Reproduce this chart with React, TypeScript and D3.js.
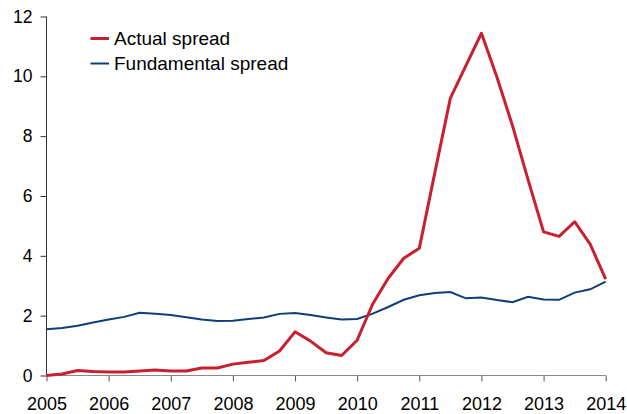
import React, { useEffect, useRef } from "react";
import * as d3 from "d3";

const years = [2005, 2006, 2007, 2008, 2009, 2010, 2011, 2012, 2013, 2014];
const yTicks = [0, 2, 4, 6, 8, 10, 12];
const quarters = d3.range(37).map((i) => 2005 + i / 4);

const actualSpread = [
  0.0, 0.05, 0.17, 0.13, 0.12, 0.12, 0.15, 0.18, 0.15, 0.15, 0.25, 0.25,
  0.38, 0.44, 0.5, 0.82, 1.46, 1.15, 0.76, 0.67, 1.18, 2.39, 3.25, 3.92,
  4.25, 6.78, 9.27, 10.36, 11.44, 9.97, 8.35, 6.55, 4.8, 4.65, 5.14, 4.39,
  3.22,
];
const fundamentalSpread = [
  1.55, 1.59, 1.66, 1.77, 1.87, 1.96, 2.1, 2.06, 2.02, 1.95, 1.87, 1.82,
  1.83, 1.89, 1.94, 2.06, 2.09, 2.02, 1.94, 1.87, 1.89, 2.07, 2.29, 2.53,
  2.68, 2.76, 2.79, 2.58, 2.61, 2.52, 2.45, 2.63, 2.54, 2.53, 2.77, 2.88,
  3.14,
];

const seriesNames = ["Actual spread", "Fundamental spread"];
const seriesColors = ["#C8202E", "#0E3E78"];

export default function App() {
  const ref = useRef<SVGSVGElement | null>(null);

  useEffect(() => {
    const svg = d3.select(ref.current);
    svg.selectAll("*").remove();
    const x = d3.scaleLinear().domain([2005, 2014]).range([46.5, 605.7]);
    const y = d3.scaleLinear().domain([0, 12]).range([375.5, 16.5]);
    const font = "'Liberation Sans', Arial, sans-serif";

    // y axis
    const ya = svg.append("g").attr("transform", `translate(${x(2005)},0)`);
    ya.call(d3.axisLeft(y).tickValues(yTicks).tickSize(6).tickPadding(8).tickFormat(d3.format("d")) as any);
    ya.select(".domain").attr("stroke", "#333").attr("d", `M0,${y(12)}V${y(0)}`);
    ya.selectAll(".tick line").attr("stroke", "#333");
    ya.selectAll(".tick text").attr("font-family", font).attr("font-size", 17.5).attr("fill", "#000");

    // x axis
    const xa = svg.append("g").attr("transform", `translate(0,${y(0)})`);
    xa.call(d3.axisBottom(x).tickValues(years).tickSize(6).tickPadding(16).tickFormat(d3.format("d")) as any);
    xa.select(".domain").attr("stroke", "#888").attr("d", `M${x(2005)},0H${x(2014)}`);
    xa.selectAll(".tick line").attr("stroke", "#555");
    xa.selectAll(".tick text").attr("font-family", font).attr("font-size", 18).attr("fill", "#000");

    const line = d3
      .line<number>()
      .x((_, i) => x(quarters[i]))
      .y((d) => y(d));

    svg
      .append("path")
      .datum(fundamentalSpread)
      .attr("d", line)
      .attr("fill", "none")
      .attr("stroke", seriesColors[1])
      .attr("stroke-width", 2);
    svg
      .append("path")
      .datum(actualSpread)
      .attr("d", line)
      .attr("fill", "none")
      .attr("stroke", seriesColors[0])
      .attr("stroke-width", 3)
      .attr("stroke-linejoin", "round");

    // legend
    const lg = svg.append("g");
    seriesNames.forEach((name, i) => {
      const yy = 38.5 + i * 25;
      lg.append("line")
        .attr("x1", 90.5)
        .attr("x2", 109)
        .attr("y1", yy)
        .attr("y2", yy)
        .attr("stroke", seriesColors[i])
        .attr("stroke-width", i === 0 ? 3 : 2);
      lg.append("text")
        .attr("x", 114)
        .attr("y", yy + 6.8)
        .attr("font-family", font)
        .attr("font-size", 19)
        .attr("fill", "#000")
        .text(name);
    });
  }, []);

  return (
    <svg
      ref={ref}
      width={627}
      height={414}
      style={{ position: "absolute", left: 0, top: 0, background: "#fff" }}
    />
  );
}
